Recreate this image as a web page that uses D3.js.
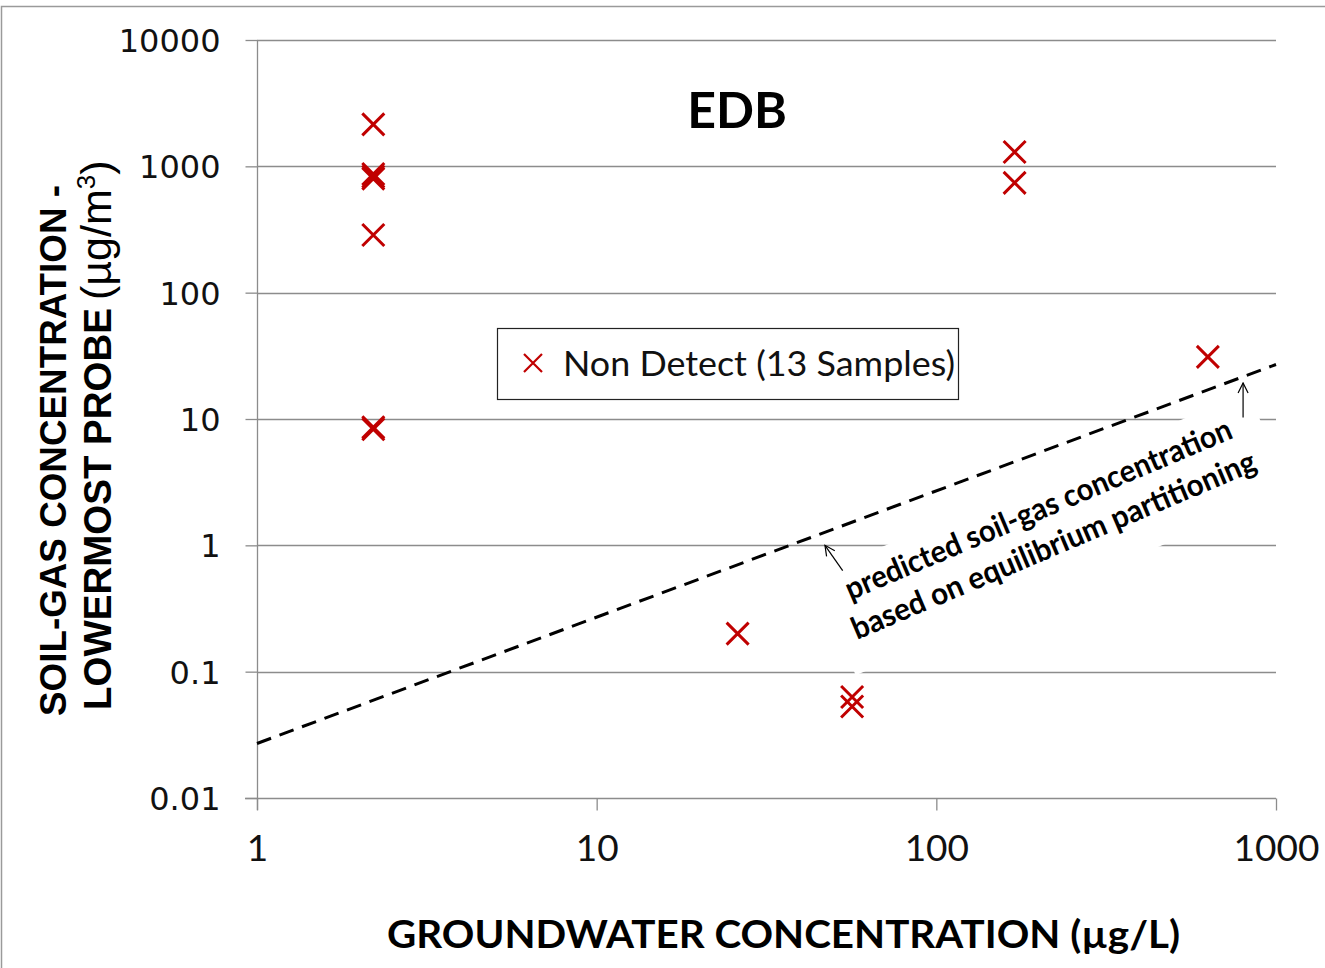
<!DOCTYPE html>
<html><head><meta charset="utf-8">
<script src="https://cdn.jsdelivr.net/npm/d3@7"></script>
<style>body{margin:0;background:#fff}svg{display:block}</style>
</head><body>
<script>
// ---- data ----
const groundwater = [2.2, 2.2, 2.2, 2.2, 2.2, 2.2, 2.2, 26, 56.5, 56.5, 170, 170, 630];
const soilGas     = [2150, 870, 830, 800, 286, 8.6, 8.3, 0.2, 0.063, 0.053, 1300, 740, 31];
const xTicks = [1, 10, 100, 1000];
const xTickLabels = ["1", "10", "100", "1000"];
const yTicks = [0.01, 0.1, 1, 10, 100, 1000, 10000];
const yTickLabels = ["0.01", "0.1", "1", "10", "100", "1000", "10000"];
const predictedX = [1, 1000];
const predictedY = [0.027, 27];
const legendLabel = "Non Detect (13 Samples)";
const chartTitle = "EDB";
const xTitle = "GROUNDWATER CONCENTRATION (\u00b5g/L)";
const annLine1 = "predicted soil-gas concentration";
const annLine2 = "based on equilibrium partitioning";
// annotation arrow anchors (data units): [fromX, fromY, toX, toY]
const arrow1 = [53, 0.63, 47, 1];
const arrow2 = [800, 10.3, 800, 19.3];

const W = 1325, H = 968;
const svg = d3.select("body").append("svg").attr("width", W).attr("height", H);

const x = d3.scaleLog().domain([1, 1000]).range([257, 1276]);
const y = d3.scaleLog().domain([0.01, 10000]).range([798, 40]);

// outer chart border
svg.append("rect").attr("x", 1.5).attr("y", 6.5).attr("width", W + 10).attr("height", H + 10)
  .attr("fill", "none").attr("stroke", "#9a9a9a").attr("stroke-width", 1.5);

// gridlines
svg.append("g").selectAll("line").data(yTicks.filter(v => v > 0.01)).join("line")
  .attr("x1", 257).attr("x2", 1276)
  .attr("y1", d => Math.round(y(d)) + 0.5).attr("y2", d => Math.round(y(d)) + 0.5)
  .attr("stroke", "#8c8c8c").attr("stroke-width", 1.3);

// axes
const yAxis = d3.axisLeft(y).tickValues(yTicks).tickSize(12).tickPadding(25)
  .tickFormat((d, i) => yTickLabels[i]);
const gy = svg.append("g").attr("transform", "translate(257.5,0)").call(yAxis);
gy.select(".domain").attr("stroke", "#8c8c8c").attr("stroke-width", 1.3).attr("d", "M0,40V810");
gy.selectAll(".tick line").attr("stroke", "#8c8c8c").attr("stroke-width", 1.3);
gy.selectAll(".tick text").attr("font-family", "DejaVu Sans").attr("font-size", 32)
  .attr("fill", "#111").attr("dy", "0.36em");

const xAxis = d3.axisBottom(x).tickValues(xTicks).tickSize(12).tickPadding(24)
  .tickFormat((d, i) => xTickLabels[i]);
const gx = svg.append("g").attr("transform", "translate(0,798.5)").call(xAxis);
gx.select(".domain").attr("stroke", "#8c8c8c").attr("stroke-width", 1.3).attr("d", "M245,0H1276");
gx.selectAll(".tick line").attr("stroke", "#8c8c8c").attr("stroke-width", 1.3);
gx.selectAll(".tick text").attr("font-family", "Lato").attr("font-size", 37).attr("fill", "#111");

// annotation text box (white fill hides gridlines)
const ann = svg.append("g").attr("transform", "translate(857,640) rotate(-23)");
ann.append("rect").attr("x", -15).attr("y", -76).attr("width", 472).attr("height", 108).attr("fill", "#fff");

// predicted line
const line = d3.line().x(d => x(d[0])).y(d => y(d[1]));
svg.append("path").datum(predictedX.map((v, i) => [v, predictedY[i]]))
  .attr("d", line).attr("fill", "none").attr("stroke", "#000").attr("stroke-width", 3)
  .attr("stroke-dasharray", "15,9");

// annotation text
ann.append("text").attr("x", 218).attr("y", -39).attr("text-anchor", "middle")
  .attr("font-family", "Lato").attr("font-weight", "bold").attr("font-size", 31)
  .attr("textLength", 417).attr("lengthAdjust", "spacingAndGlyphs").text(annLine1);
ann.append("text").attr("x", 218).attr("y", 0).attr("text-anchor", "middle")
  .attr("font-family", "Lato").attr("font-weight", "bold").attr("font-size", 31)
  .attr("textLength", 436).attr("lengthAdjust", "spacingAndGlyphs").text(annLine2);

// arrows
const defs = svg.append("defs");
defs.append("marker").attr("id", "ah").attr("viewBox", "0 0 12 12").attr("refX", 11).attr("refY", 6)
  .attr("markerWidth", 12).attr("markerHeight", 12).attr("markerUnits", "userSpaceOnUse").attr("orient", "auto")
  .append("path").attr("d", "M1,1L11,6L1,11").attr("fill", "none").attr("stroke", "#000").attr("stroke-width", 1.2);
[arrow1, arrow2].forEach(a => {
  svg.append("line").attr("x1", x(a[0])).attr("y1", y(a[1])).attr("x2", x(a[2])).attr("y2", y(a[3]))
    .attr("stroke", "#000").attr("stroke-width", 1.2).attr("marker-end", "url(#ah)");
});

// points
const cross = (s) => `M${-s},${-s}L${s},${s}M${-s},${s}L${s},${-s}`;
svg.append("g").selectAll("path").data(groundwater.map((g, i) => [g, soilGas[i]])).join("path")
  .attr("transform", d => `translate(${x(d[0])},${y(d[1])})`)
  .attr("d", cross(11)).attr("stroke", "#c00000").attr("stroke-width", 3).attr("fill", "none");

// title
svg.append("text").attr("x", 737).attr("y", 128).attr("text-anchor", "middle")
  .attr("font-family", "Lato").attr("font-weight", "bold").attr("font-size", 50).attr("fill", "#000")
  .text(chartTitle);

// legend
const lg = svg.append("g");
lg.append("rect").attr("x", 497.5).attr("y", 328.5).attr("width", 461).attr("height", 71)
  .attr("fill", "#fff").attr("stroke", "#222").attr("stroke-width", 1.2);
lg.append("path").attr("transform", "translate(533,363)").attr("d", cross(9))
  .attr("stroke", "#c00000").attr("stroke-width", 2.2).attr("fill", "none");
lg.append("text").attr("x", 563).attr("y", 376).attr("font-family", "Lato").attr("font-size", 34)
  .attr("fill", "#111").attr("textLength", 392).attr("lengthAdjust", "spacingAndGlyphs").text(legendLabel);

// x title
svg.append("text").attr("x", 387).attr("y", 948).attr("font-family", "Lato").attr("font-weight", "bold")
  .attr("font-size", 38).attr("fill", "#000").attr("textLength", 793).attr("lengthAdjust", "spacingAndGlyphs")
  .text(xTitle);

// y title (two lines)
svg.append("text").attr("transform", "translate(66,716) rotate(-90)")
  .attr("font-family", "Liberation Sans, Arial").attr("font-weight", "bold").attr("font-size", 37)
  .attr("fill", "#000").attr("textLength", 531).attr("lengthAdjust", "spacingAndGlyphs")
  .text("SOIL-GAS CONCENTRATION -");
svg.append("text").attr("transform", "translate(111,710) rotate(-90)")
  .attr("font-family", "Liberation Sans, Arial").attr("font-weight", "bold").attr("font-size", 38)
  .attr("fill", "#000").attr("textLength", 402).attr("lengthAdjust", "spacingAndGlyphs")
  .text("LOWERMOST PROBE");
const yt2 = svg.append("text").attr("transform", "translate(111,300) rotate(-90)")
  .attr("font-family", "Liberation Sans, Arial").attr("font-size", 43).attr("fill", "#000");
yt2.append("tspan").text("(\u00b5g/m");
yt2.append("tspan").attr("font-size", 26).attr("dy", -16).text("3");
yt2.append("tspan").attr("dy", 16).text(")");
</script>
</body></html>
